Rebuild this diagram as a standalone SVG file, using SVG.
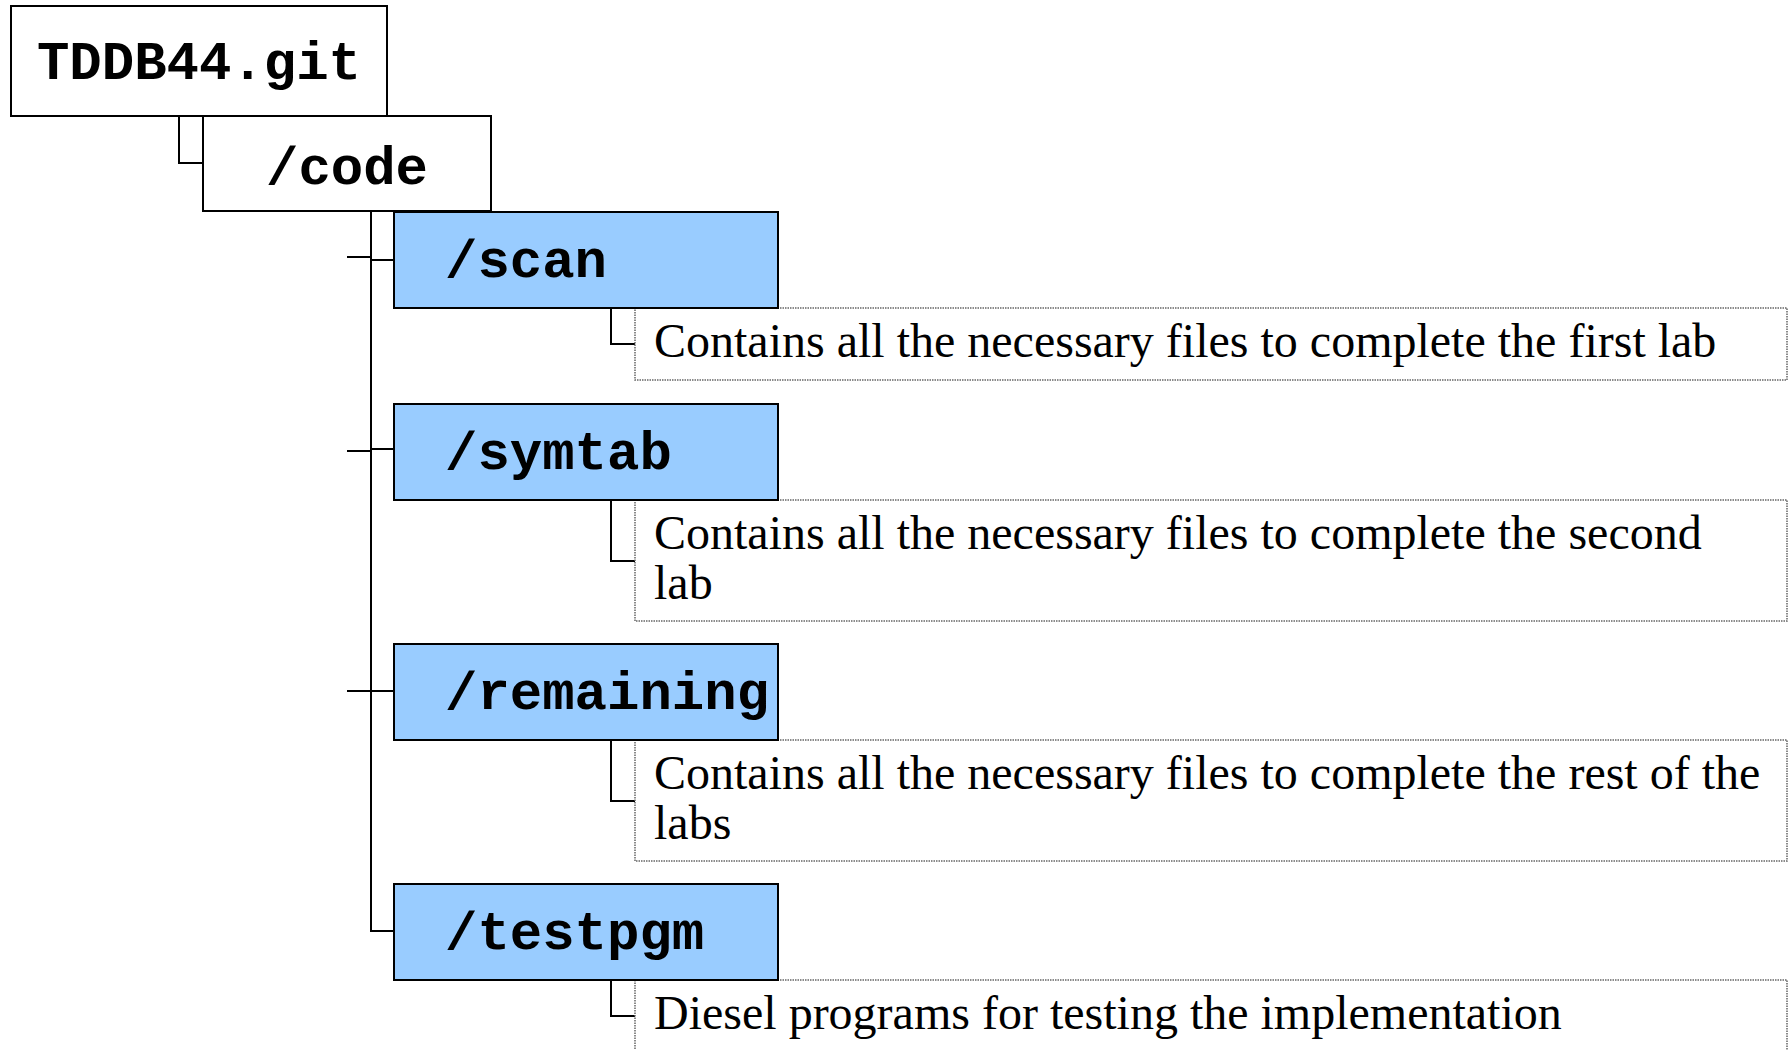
<svg xmlns="http://www.w3.org/2000/svg" width="1791" height="1050" viewBox="0 0 1791 1050">
  <style>
    .dir { fill: #ffffff; stroke: #000000; stroke-width: 2; }
    .sub { fill: #99ccff; stroke: #000000; stroke-width: 2; }
    .note { fill: #ffffff; stroke: #666666; stroke-width: 1.5; stroke-dasharray: 1.5 1; }
    .mono { font-family: "Liberation Mono", "Courier New", monospace; font-weight: bold; font-size: 54px; fill: #000000; }
    .serif { font-family: "Liberation Serif", "Times New Roman", serif; font-size: 48px; fill: #000000; }
    .wire { fill: none; stroke: #000000; stroke-width: 2; }
  </style>
  <rect width="1791" height="1050" fill="#ffffff"/>

  <!-- tree connectors -->
  <g id="connectors">
    <polyline class="wire" points="179,116 179,163 203,163"/>
    <polyline class="wire" points="371,211 371,931 394,931"/>
    <line class="wire" x1="347" y1="257" x2="371" y2="257"/>
    <line class="wire" x1="371" y1="260" x2="394" y2="260"/>
    <line class="wire" x1="347" y1="451" x2="371" y2="451"/>
    <line class="wire" x1="371" y1="449" x2="394" y2="449"/>
    <line class="wire" x1="347" y1="691" x2="394" y2="691"/>
    <polyline class="wire" points="611,308 611,344 635,344"/>
    <polyline class="wire" points="611,500 611,561 635,561"/>
    <polyline class="wire" points="611,740 611,801 635,801"/>
    <polyline class="wire" points="611,980 611,1016 635,1016"/>
  </g>

  <!-- repository root -->
  <g id="node-root">
    <rect class="dir" x="11" y="6" width="376" height="110"/>
    <text class="mono" x="199" y="79" text-anchor="middle">TDDB44.git</text>
  </g>

  <g id="node-code">
    <rect class="dir" x="203" y="116" width="288" height="95"/>
    <text class="mono" x="347" y="184" text-anchor="middle">/code</text>
  </g>

  <!-- description boxes (drawn before the folders so their top edge sits under them) -->
  <g id="note-scan">
    <rect class="note" x="635" y="308" width="1152" height="72"/>
    <text class="serif" x="654" y="357">Contains all the necessary files to complete the first lab</text>
  </g>
  <g id="note-symtab">
    <rect class="note" x="635" y="500" width="1152" height="121"/>
    <text class="serif" x="654" y="549">Contains all the necessary files to complete the second</text>
    <text class="serif" x="654" y="599">lab</text>
  </g>
  <g id="note-remaining">
    <rect class="note" x="635" y="740" width="1152" height="121"/>
    <text class="serif" x="654" y="789">Contains all the necessary files to complete the rest of the</text>
    <text class="serif" x="654" y="839">labs</text>
  </g>
  <g id="note-testpgm">
    <rect class="note" x="635" y="980" width="1152" height="100"/>
    <text class="serif" x="654" y="1029">Diesel programs for testing the implementation</text>
  </g>

  <!-- sub folders -->
  <g id="node-scan">
    <rect class="sub" x="394" y="212" width="384" height="96"/>
    <text class="mono" x="445" y="277">/scan</text>
  </g>
  <g id="node-symtab">
    <rect class="sub" x="394" y="404" width="384" height="96"/>
    <text class="mono" x="445" y="469">/symtab</text>
  </g>
  <g id="node-remaining">
    <rect class="sub" x="394" y="644" width="384" height="96"/>
    <text class="mono" x="445" y="709">/remaining</text>
  </g>
  <g id="node-testpgm">
    <rect class="sub" x="394" y="884" width="384" height="96"/>
    <text class="mono" x="445" y="949">/testpgm</text>
  </g>
</svg>
